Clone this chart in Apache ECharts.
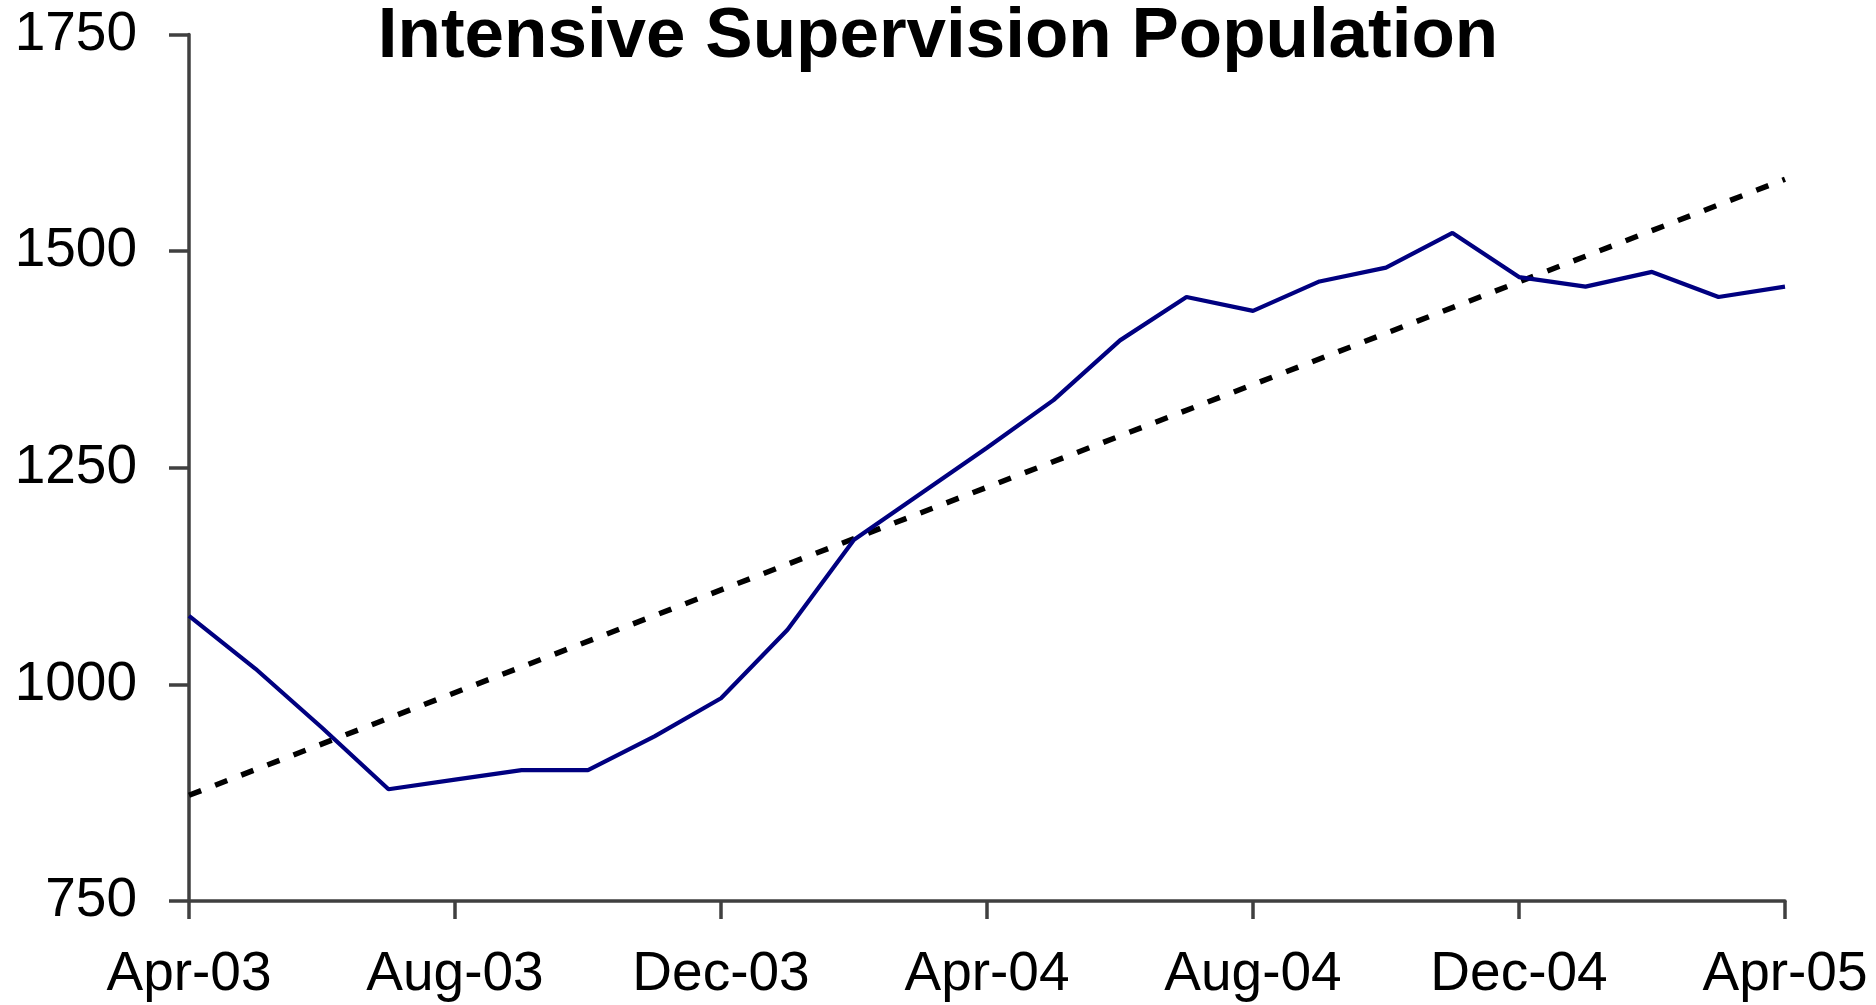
<!DOCTYPE html>
<html>
<head>
<meta charset="utf-8">
<title>Intensive Supervision Population</title>
<script src="https://cdn.jsdelivr.net/npm/echarts@6/dist/echarts.min.js"></script>
<style>
  html, body { margin: 0; padding: 0; background: #fff; }
  #chart { width: 1876px; height: 1005px; }
</style>
</head>
<body>
<div id="chart"></div>
<script>
// monthly categories, Apr-03 .. Apr-05
const months = [
  'Apr-03', 'May-03', 'Jun-03', 'Jul-03', 'Aug-03', 'Sep-03', 'Oct-03', 'Nov-03',
  'Dec-03', 'Jan-04', 'Feb-04', 'Mar-04', 'Apr-04', 'May-04', 'Jun-04', 'Jul-04',
  'Aug-04', 'Sep-04', 'Oct-04', 'Nov-04', 'Dec-04', 'Jan-05', 'Feb-05', 'Mar-05', 'Apr-05'
]
const population = [
  1079, 1018, 950, 879, 890, 901, 901, 940,
  984, 1063, 1167, 1220, 1273, 1328, 1397, 1447,
  1431, 1465, 1481, 1521, 1470, 1459, 1476, 1447, 1459
]
const trendEnds = [872, 1583]
const yTicks = [750, 1000, 1250, 1500, 1750]

const labelFont = {
  color: '#000',
  fontSize: 55,
  fontFamily: '"Liberation Sans", Arial, sans-serif'
}
const axisColor = '#404040'

const chart = echarts.init(document.getElementById('chart'))
const option = {
  backgroundColor: '#fff',
  animation: false,
  title: {
    text: 'Intensive Supervision Population',
    left: 'center',
    top: -3,
    textStyle: {
      color: '#000',
      fontSize: 71,
      fontWeight: 'bold',
      fontFamily: '"Liberation Sans", Arial, sans-serif'
    }
  },
  grid: { left: 189, right: 91, top: 34.5, bottom: 104, containLabel: false },
  xAxis: {
    type: 'category',
    data: months,
    boundaryGap: false,
    axisLine: { show: true, lineStyle: { color: axisColor, width: 3.5 } },
    axisTick: { show: true, interval: 3, length: 18, lineStyle: { color: axisColor, width: 3.5 } },
    axisLabel: { interval: 3, margin: 46, ...labelFont },
    splitLine: { show: false }
  },
  yAxis: {
    type: 'value',
    min: yTicks[0],
    max: yTicks[yTicks.length - 1],
    interval: 250,
    axisLine: { show: true, lineStyle: { color: axisColor, width: 3.5 } },
    axisTick: { show: true, inside: false, length: 20, lineStyle: { color: axisColor, width: 3.5 } },
    axisLabel: { margin: 52, formatter: (v) => String(v), ...labelFont },
    splitLine: { show: false }
  },
  series: [
    {
      name: 'Population',
      type: 'line',
      data: population,
      symbol: 'none',
      lineStyle: { color: '#000080', width: 4.2 },
      z: 3
    },
    {
      name: 'Trend',
      type: 'line',
      data: [[0, trendEnds[0]], [months.length - 1, trendEnds[1]]],
      symbol: 'none',
      lineStyle: { color: '#000', width: 5.5, type: [13, 15], cap: 'butt' },
      z: 2
    }
  ]
}
chart.setOption(option)
</script>
</body>
</html>
